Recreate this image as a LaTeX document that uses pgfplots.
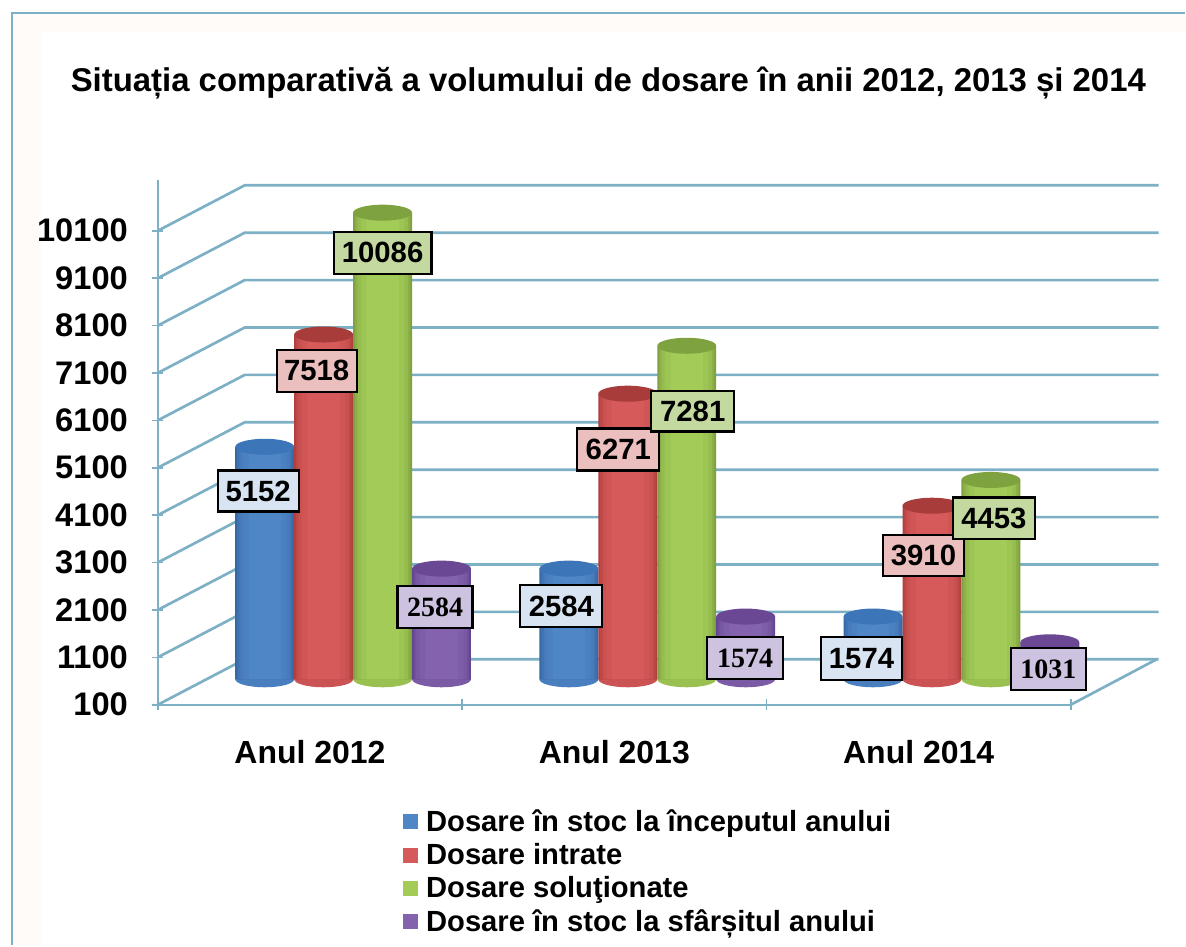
\documentclass[border=0pt]{standalone}
\usepackage{pgfplots}
\usepackage{pgfplotstable}
\usepackage{fontspec}
\pgfplotsset{compat=1.18}
\setmainfont{Liberation Sans}
\newfontfamily\serifb{Liberation Serif}[BoldFont={* Bold}]
\definecolor{gridc}{HTML}{7DB0C4}
\definecolor{bgc}{HTML}{FFFBF9}
\definecolor{bE}{HTML}{3768A6}\definecolor{bM}{HTML}{4F86C6}\definecolor{bT}{HTML}{3C76B8}\definecolor{bL}{HTML}{D8E4F2}
\definecolor{rE}{HTML}{B03F3D}\definecolor{rM}{HTML}{D65A5A}\definecolor{rT}{HTML}{A83C3A}\definecolor{rL}{HTML}{EBBFBE}
\definecolor{gE}{HTML}{7FA03E}\definecolor{gM}{HTML}{A2CB58}\definecolor{gT}{HTML}{7FA240}\definecolor{gL}{HTML}{C3D9A0}
\definecolor{pE}{HTML}{634690}\definecolor{pM}{HTML}{8462AE}\definecolor{pT}{HTML}{6A4894}\definecolor{pL}{HTML}{CDC2E0}
\pgfdeclareplotmark{cyl}{\pgfpathellipse{\pgfpointorigin}{\pgfqpoint{22.1pt}{0pt}}{\pgfqpoint{0pt}{6pt}}\pgfusepathqfill}
\pgfplotstableread{
v base
5152 252
2584 252
1574 252
}\tblue
\pgfplotstableread{
v base
7518 252
6271 252
3910 252
}\tred
\pgfplotstableread{
v base
10086 252
7281 252
4453 252
}\tgreen
\pgfplotstableread{
v base
2584 252
1574 252
1031 252
}\tpurple
\pgfplotsset{baraxis/.style={
  at={(0pt,-709.5pt)},anchor=south west,scale only axis,
  width=889.5pt,height=709.5pt,
  xmin=-1.16092,xmax=2.73399,ymin=-5347.4,ymax=14568.4,
  y coord trafo/.code={\pgfmathparse{##1-252}\pgfmathresult},
  hide axis,clip=false}}
\newcommand{\layer}[4]{\addplot[forget plot,ybar,bar width=#4,bar shift=#2,draw=none,fill=#3] table[x expr=\coordindex,y=v]{#1};}
\newcommand{\cylbase}[3]{\addplot[forget plot,only marks,mark=cyl,mark options={fill=#3M!75!#3E,draw=none}] table[x expr=\coordindex+#2,y=base]{#1};}
\newcommand{\cylinder}[5]{% table, offset (groups), shift (pt), colour prefix, legend entry
  \addplot[ybar,bar width=44.25pt,bar shift=#3,draw=none,fill=#4E,
    legend image code/.code={\fill[#4M] (0pt,-5.6pt) rectangle (11.25pt,5.6pt);\path (15.5pt,0pt);}] table[x expr=\coordindex,y=v]{#1};
  \addlegendentry{#5}
  \layer{#1}{#3}{#4M!35!#4E}{41.6pt}
  \layer{#1}{#3}{#4M!65!#4E}{38pt}
  \layer{#1}{#3}{#4M!85!#4E}{32.7pt}
  \layer{#1}{#3}{#4M}{24.3pt}
  \addplot[forget plot,only marks,mark=cyl,mark options={fill=#4T,draw=none}] table[x expr=\coordindex+#2,y=v]{#1};
}
\newcommand{\lab}[6]{\draw[black,line width=1.6pt,fill=#5] (#1,#2) rectangle (#3,#4) node[midway,black,inner sep=0pt,font=\bfseries\fontsize{22}{26}\selectfont]{#6};}
\newcommand{\labs}[6]{\draw[black,line width=1.6pt,fill=#5] (#1,#2) rectangle (#3,#4) node[midway,black,inner sep=0pt,font=\serifb\bfseries\fontsize{21}{25}\selectfont]{#6};}
\begin{document}
\begin{tikzpicture}
\begin{scope}[x=0.75pt,y=-0.75pt]
  \fill[white] (0,0) rectangle (1186,946);
  \fill[bgc] (12,13) rectangle (1186,946);
  \fill[white] (42,32) rectangle (1186,946);
  \draw[gridc,line width=2pt] (12,946)--(12,13)--(1186,13);
  \foreach \i in {0,...,10}{
    \pgfmathsetmacro{\F}{705.5-47.45*\i}
    \pgfmathsetmacro{\B}{660-47.45*\i}
    \draw[gridc,line width=2pt] (158,\F)--(245,\B)--(1160,\B);
  }
  \draw[gridc,line width=2pt] (1072,705.5)--(1158,660);
  \draw[gridc,line width=1.5pt] (158,705.5)--(158,180);
\end{scope}
% front axis: value scale and categories
\begin{axis}[
  at={(118.5pt,-529.125pt)},anchor=south west,scale only axis,
  width=685.5pt,height=355.875pt,
  xmin=0,xmax=3,ymin=100,ymax=10100,clip=false,
  axis x line=bottom,axis y line=left,
  axis line style={gridc,line width=1.8pt,-},
  scaled ticks=false,
  /pgf/number format/assume math mode=true,
  /pgf/number format/1000 sep={},
  xtick={0,1,2,3},xticklabels={,,,},
  extra x ticks={0.5,1.5,2.5},extra x tick labels={Anul 2012,Anul 2013,Anul 2014},
  extra x tick style={tickwidth=0pt},
  x tick label style={font=\bfseries\fontsize{24}{28}\selectfont,yshift=-23pt},
  xtick style={gridc,line width=1.2pt},
  ytick={100,1100,...,10100},
  y tick label style={font=\bfseries\fontsize{24.5}{28}\selectfont,xshift=-15pt},
  ytick style={gridc,line width=1.2pt},
  tickwidth=8pt,
]
\end{axis}
% cylinder bottoms
\begin{axis}[baraxis]
\cylbase{\tblue}{-0.29064}{b}
\cylbase{\tred}{-0.09688}{r}
\cylbase{\tgreen}{0.09688}{g}
\cylbase{\tpurple}{0.29064}{p}
\end{axis}
% bars
\begin{axis}[baraxis,
  title={Situația comparativă a volumului de dosare în anii 2012, 2013 și 2014},
  title style={at={(0.5135,0.9039)},anchor=center,font=\bfseries\fontsize{24.7}{29}\selectfont},
  legend style={at={(0.3398,0.146)},anchor=north west,draw=none,fill=none,
    font=\bfseries\fontsize{21.9}{26}\selectfont,row sep=3.4pt,inner sep=0pt},
  legend cell align=left,
]
\cylinder{\tblue}{-0.29064}{-66.375pt}{b}{Dosare în stoc la începutul anului}
\cylinder{\tred}{-0.09688}{-22.125pt}{r}{Dosare intrate}
\cylinder{\tgreen}{0.09688}{22.125pt}{g}{Dosare soluţionate}
\cylinder{\tpurple}{0.29064}{66.375pt}{p}{Dosare în stoc la sfârșitul anului}
\end{axis}
\begin{scope}[x=0.75pt,y=-0.75pt]
  \lab{334}{232}{432}{274}{gL}{10086}
  \lab{277}{350}{357}{392}{rL}{7518}
  \lab{218}{471}{299}{512}{bL}{5152}
  \labs{398}{587}{473}{629}{pL}{2584}
  \lab{521}{586}{603}{628}{bL}{2584}
  \lab{578}{429}{660}{471}{rL}{6271}
  \lab{652}{391}{735}{432}{gL}{7281}
  \labs{708}{638}{784}{680}{pL}{1574}
  \lab{822}{638}{903}{681}{bL}{1574}
  \lab{884}{536}{965}{577}{rL}{3910}
  \lab{954}{498}{1036}{540}{gL}{4453}
  \labs{1012}{649}{1087}{691}{pL}{1031}
\end{scope}
\end{tikzpicture}
\end{document}
